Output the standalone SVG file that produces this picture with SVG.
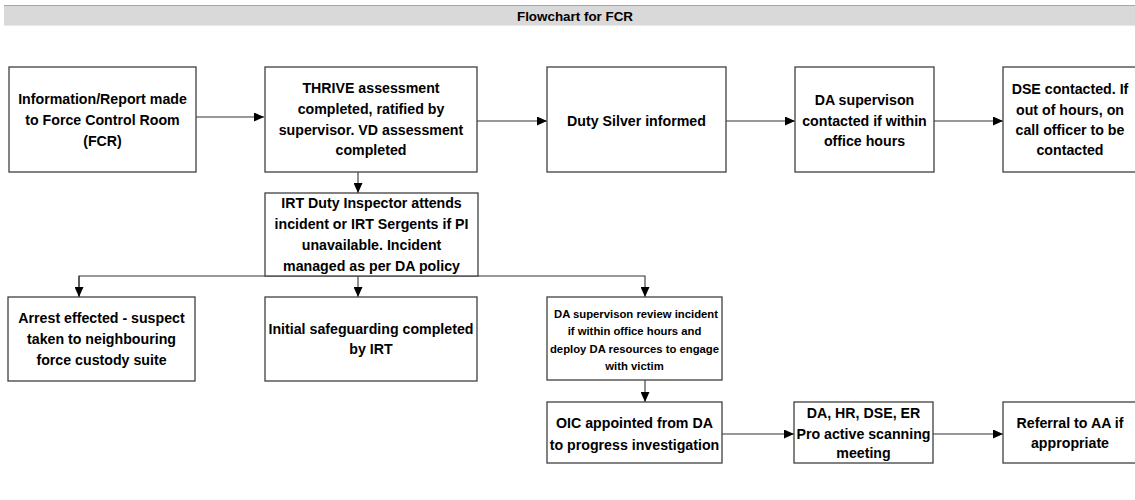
<svg xmlns="http://www.w3.org/2000/svg" width="1135" height="500" viewBox="0 0 1135 500">
<style>
.box{fill:#fff;stroke:#404040;stroke-width:1.3}
.t{font-family:"Liberation Sans",Arial,sans-serif;font-weight:bold;font-size:14.2px;fill:#000;text-anchor:middle}
.s{font-family:"Liberation Sans",Arial,sans-serif;font-weight:bold;font-size:11.3px;fill:#000;text-anchor:middle}
.c{fill:none;stroke:#333;stroke-width:1.1}
.title{font-family:"Liberation Sans",Arial,sans-serif;font-weight:bold;font-size:13.4px;fill:#000;text-anchor:middle}
</style>
<defs>
<marker id="ah" markerUnits="userSpaceOnUse" markerWidth="10" markerHeight="9" refX="10" refY="4.5" orient="auto">
<path d="M0,0 L10,4.5 L0,9 z" fill="#000"/>
</marker>
</defs>
<rect width="1135" height="500" fill="#fff"/>
<g id="header">
<rect x="4" y="5" width="1135" height="20" fill="#d9d9d9"/>
<line x1="4" y1="5.5" x2="1135" y2="5.5" stroke="#a6a6a6" stroke-width="1"/>
<line x1="4" y1="25.5" x2="1135" y2="25.5" stroke="#e8e8e8" stroke-width="1"/>
<text class="title" x="575" y="20.5">Flowchart for FCR</text>
</g>
<g id="connectors">
<line class="c" x1="196" y1="117" x2="264" y2="117" marker-end="url(#ah)"/>
<line class="c" x1="477" y1="121" x2="547" y2="121" marker-end="url(#ah)"/>
<line class="c" x1="726" y1="121" x2="795" y2="121" marker-end="url(#ah)"/>
<line class="c" x1="934" y1="121" x2="1003" y2="121" marker-end="url(#ah)"/>
<line class="c" x1="358" y1="172" x2="358" y2="193" marker-end="url(#ah)"/>
<polyline class="c" points="79,297 79,276 645,276 645,297" marker-end="url(#ah)"/>
<line class="c" x1="79" y1="276" x2="79" y2="297" marker-end="url(#ah)"/>
<line class="c" x1="358" y1="276" x2="358" y2="297" marker-end="url(#ah)"/>
<line class="c" x1="645" y1="380" x2="645" y2="402" marker-end="url(#ah)"/>
<line class="c" x1="722" y1="434" x2="794" y2="434" marker-end="url(#ah)"/>
<line class="c" x1="933" y1="434" x2="1003" y2="434" marker-end="url(#ah)"/>
</g>
<g id="n1">
<rect class="box" x="9" y="67" width="187" height="105"/>
<text class="t" x="102.5" y="104">Information/Report made</text>
<text class="t" x="102.5" y="125">to Force Control Room</text>
<text class="t" x="102.5" y="146">(FCR)</text>
</g>
<g id="n2">
<rect class="box" x="265" y="67" width="212" height="105"/>
<text class="t" x="371" y="93">THRIVE assessment</text>
<text class="t" x="371" y="114">completed, ratified by</text>
<text class="t" x="371" y="135">supervisor. VD assessment</text>
<text class="t" x="371" y="155">completed</text>
</g>
<g id="n3">
<rect class="box" x="547" y="67" width="179" height="105"/>
<text class="t" x="636.5" y="126">Duty Silver informed</text>
</g>
<g id="n4">
<rect class="box" x="795" y="67" width="139" height="105"/>
<text class="t" x="864.5" y="105">DA supervison</text>
<text class="t" x="864.5" y="126">contacted if within</text>
<text class="t" x="864.5" y="146">office hours</text>
</g>
<g id="n5">
<rect class="box" x="1003" y="67" width="140" height="105"/>
<text class="t" x="1070" y="94">DSE contacted. If</text>
<text class="t" x="1070" y="115">out of hours, on</text>
<text class="t" x="1070" y="135">call officer to be</text>
<text class="t" x="1070" y="155">contacted</text>
</g>
<g id="n6">
<rect class="box" x="265" y="193" width="213" height="83"/>
<text class="t" x="371.5" y="208">IRT Duty Inspector attends</text>
<text class="t" x="371.5" y="229">incident or IRT Sergents if PI</text>
<text class="t" x="371.5" y="250">unavailable. Incident</text>
<text class="t" x="371.5" y="271">managed as per DA policy</text>
</g>
<g id="n7">
<rect class="box" x="8" y="297" width="187" height="84"/>
<text class="t" x="101.5" y="323">Arrest effected - suspect</text>
<text class="t" x="101.5" y="344">taken to neighbouring</text>
<text class="t" x="101.5" y="365">force custody suite</text>
</g>
<g id="n8">
<rect class="box" x="265" y="297" width="212" height="84"/>
<text class="t" x="371" y="334">Initial safeguarding completed</text>
<text class="t" x="371" y="354">by IRT</text>
</g>
<g id="n9">
<rect class="box" x="547" y="297" width="175" height="83"/>
<text class="s" x="636" y="318">DA supervison review incident</text>
<text class="s" x="634.5" y="335">if within office hours and</text>
<text class="s" x="634.5" y="353">deploy DA resources to engage</text>
<text class="s" x="634.5" y="370">with victim</text>
</g>
<g id="n10">
<rect class="box" x="547" y="402" width="175" height="61"/>
<text class="t" x="634.5" y="428">OIC appointed from DA</text>
<text class="t" x="634.5" y="450">to progress investigation</text>
</g>
<g id="n11">
<rect class="box" x="794" y="402" width="139" height="61"/>
<text class="t" x="863.5" y="418">DA, HR, DSE, ER</text>
<text class="t" x="863.5" y="439">Pro active scanning</text>
<text class="t" x="863.5" y="458">meeting</text>
</g>
<g id="n12">
<rect class="box" x="1003" y="402" width="140" height="61"/>
<text class="t" x="1070" y="428">Referral to AA if</text>
<text class="t" x="1070" y="448">appropriate</text>
</g>
</svg>
